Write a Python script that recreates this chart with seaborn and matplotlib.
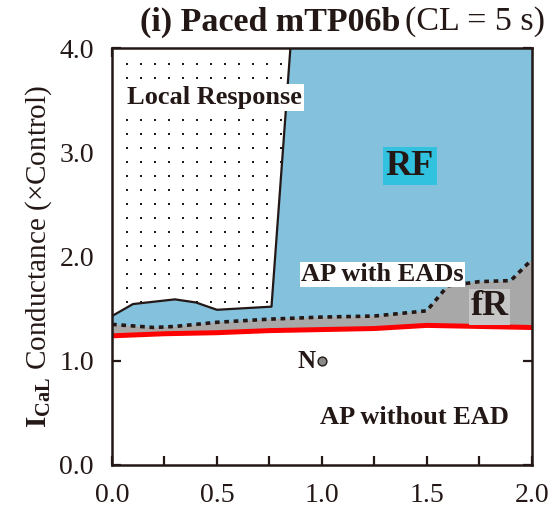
import numpy as np
import matplotlib
matplotlib.use("Agg")
import matplotlib.pyplot as plt
import seaborn as sns
from matplotlib.ticker import MultipleLocator

# ---- data ----
red_x = [0.0, 0.25, 0.5, 0.75, 1.0, 1.25, 1.5, 1.75, 2.0]
red_y = [1.24, 1.26, 1.27, 1.29, 1.30, 1.31, 1.34, 1.33, 1.32]

dot_x = [0.0, 0.2, 0.3, 0.5, 0.75, 1.0, 1.25, 1.5, 1.6, 1.75, 1.9, 2.0]
dot_y = [1.35, 1.32, 1.33, 1.37, 1.40, 1.42, 1.43, 1.48, 1.72, 1.76, 1.77, 1.97]

lr_x = [0.0, 0.1, 0.3, 0.4, 0.5, 0.76, 0.85]
lr_y = [1.43, 1.545, 1.59, 1.56, 1.49, 1.52, 4.0]

n_point_x = [1.0]
n_point_y = [1.0]

xticks = [0.0, 0.5, 1.0, 1.5, 2.0]
yticks = [0.0, 1.0, 2.0, 3.0, 4.0]
xlabels = ["0.0", "0.5", "1.0", "1.5", "2.0"]
ylabels = ["0.0", "1.0", "2.0", "3.0", "4.0"]

# ---- style ----
sns.set_theme(style="ticks")
plt.rcParams["font.family"] = ["Liberation Serif", "DejaVu Serif"]
plt.rcParams["mathtext.fontset"] = "custom"
plt.rcParams["mathtext.rm"] = "Liberation Serif"
plt.rcParams["mathtext.bf"] = "Liberation Serif:bold"
plt.rcParams["mathtext.it"] = "Liberation Serif:italic"

TXT = "#231815"
BLUE = "#83c1dd"
GRAY = "#a8a8a8"

fig = plt.figure(figsize=(5.57, 5.15), dpi=100)
ax = fig.add_axes([112 / 557, 1 - 465 / 515, (531.7 - 112) / 557, (465 - 48.3) / 515])
ax.set_xlim(0, 2.0)
ax.set_ylim(0, 4.0)

# blue region above dotted line
ax.fill_between(dot_x, dot_y, 4.0, color=BLUE, linewidth=0, zorder=1)
# gray region between red and dotted lines
gx = list(red_x) + list(dot_x[::-1])
gy = list(red_y) + list(dot_y[::-1])
ax.fill(gx, gy, color=GRAY, linewidth=0, zorder=1.5)
# local response region (white, dotted texture)
px = list(lr_x) + [0.0]
py = list(lr_y) + [4.0]
poly = ax.fill(px, py, color="white", linewidth=0, zorder=2)[0]

gxs = np.arange(0.070, 2.0, 14 / 209.8)
gys = np.arange(3.85, 0.0, -14 / 104)
GX, GY = np.meshgrid(gxs, gys)
sc = ax.scatter(GX.ravel(), GY.ravel(), s=2.2, marker="s", color=TXT, linewidths=0, zorder=2.5)
sc.set_clip_path(poly)

# boundary lines
sns.lineplot(x=red_x, y=red_y, ax=ax, color="#ff0000", linewidth=3.6, zorder=3, sort=False)
sns.lineplot(x=dot_x, y=dot_y, ax=ax, color=TXT, linewidth=2.6, zorder=4, sort=False,
             linestyle=(0, (1.3, 1.3)))
sns.lineplot(x=lr_x, y=lr_y, ax=ax, color=TXT, linewidth=1.6, zorder=4, sort=False)
sns.scatterplot(x=n_point_x, y=n_point_y, ax=ax, s=40, color="#8a8a8a",
                edgecolor=TXT, linewidth=1.0, zorder=5)

# region labels
ax.text(0.49, 3.53, "Local Response", fontsize=19, fontweight="bold", color=TXT,
        ha="center", va="center", zorder=6,
        bbox=dict(facecolor="white", edgecolor="none", pad=1.5))
ax.text(1.42, 2.87, "RF", fontsize=26, fontweight="bold", color=TXT,
        ha="center", va="center", zorder=6,
        bbox=dict(facecolor="#31c2df", edgecolor="none", pad=2))
ax.text(1.29, 1.83, "AP with EADs", fontsize=19, fontweight="bold", color=TXT,
        ha="center", va="center", zorder=6,
        bbox=dict(facecolor="white", edgecolor="none", pad=1))
ax.text(1.80, 1.52, "fR", fontsize=26, fontweight="bold", color=TXT,
        ha="center", va="center", zorder=6,
        bbox=dict(facecolor="#c6c6c6", edgecolor="none", pad=1))
ax.text(0.925, 0.99, "N", fontsize=18, fontweight="bold", color=TXT,
        ha="center", va="center", zorder=6)
ax.text(1.44, 0.46, "AP without EAD", fontsize=19, fontweight="bold", color=TXT,
        ha="center", va="center", zorder=6)

# axes styling
ax.set_xticks(xticks)
ax.set_xticklabels(xlabels)
ax.set_yticks(yticks)
ax.set_yticklabels(ylabels)
ax.xaxis.set_minor_locator(MultipleLocator(0.25))
ax.tick_params(axis="both", which="both", direction="in", top=True, right=True,
               length=6.5, width=1.6, color=TXT, labelsize=20, labelcolor=TXT, pad=13)
for sp in ax.spines.values():
    sp.set_linewidth(1.8)
    sp.set_color(TXT)
    sp.set_zorder(10)
ax.set_xlabel("")
ax.set_ylabel(r"$\mathbf{I_{CaL}}$ Conductance (×Control)", fontsize=21, color=TXT, labelpad=4)

# title
fig.text(400 / 557, 1 - 22 / 515, "(i) Paced mTP06b", fontsize=24.5, fontweight="bold",
         color=TXT, ha="right", va="center")
fig.text(405 / 557, 1 - 22 / 515, "(CL = 5 s)", fontsize=24.5, color=TXT,
         ha="left", va="center")

fig.savefig("out.png", dpi=100)
